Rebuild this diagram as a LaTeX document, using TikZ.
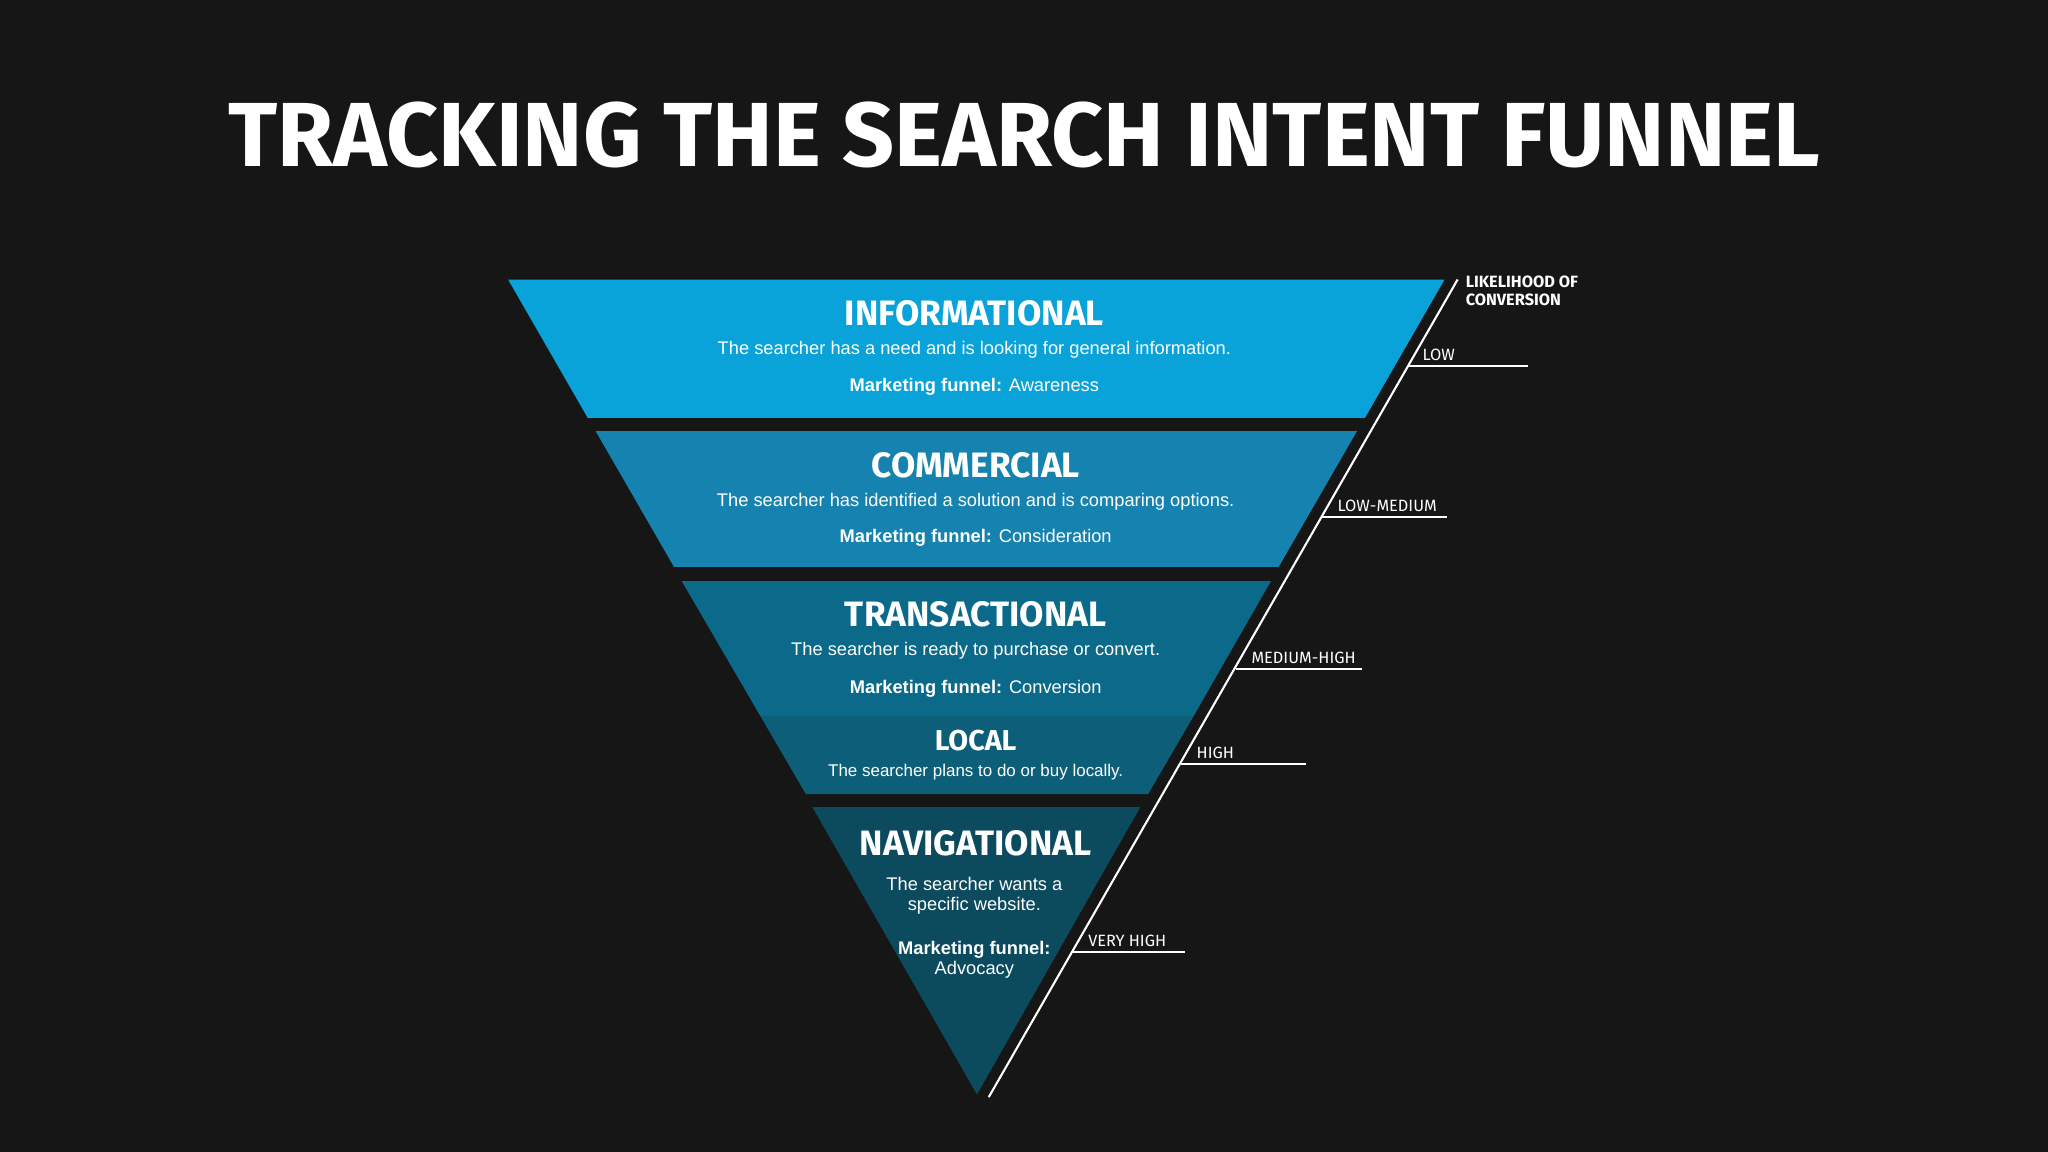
\documentclass[tikz,border=0pt]{standalone}
\usepackage{fontspec}
\setmainfont{Liberation Sans}
\newfontfamily\headfont{Fira Sans}
\definecolor{bg}{HTML}{161616}
\definecolor{cInfo}{HTML}{09A3D9}
\definecolor{cComm}{HTML}{1682AF}
\definecolor{cTrans}{HTML}{0B6A89}
\definecolor{cLocal}{HTML}{0D5E78}
\definecolor{cNav}{HTML}{0C4A5E}
\begin{document}
\begin{tikzpicture}[x=1pt,y=-1pt,
  band/.style={draw=none},
  hd/.style={text=white,font=\headfont\bfseries\fontsize{27}{27}\selectfont},
  bd/.style={text=white,font=\fontsize{14}{15}\selectfont,align=center},
  lvl/.style={text=white,font=\headfont\fontsize{12.5}{13}\selectfont,anchor=south west,inner sep=1pt},
  tick/.style={white,line width=1.6pt}]
\fill[bg] (0,0) rectangle (1568,882);
\useasboundingbox (0,0) rectangle (1568,882);
\node[text=white,font=\headfont\bfseries\fontsize{69.7}{70}\selectfont] (title) at (784,103) {TRACKING THE SEARCH INTENT FUNNEL};
\fill[cInfo] (389,214) -- (1106,214) -- (1045,320) -- (450,320) -- cycle;
\fill[cComm] (456,330) -- (1039,330) -- (979,434) -- (516,434) -- cycle;
\fill[cTrans] (522,445) -- (973,445) -- (914,548) -- (582,548) -- cycle;
\fill[cLocal] (582,548) -- (914,548) -- (879,608) -- (617,608) -- cycle;
\fill[cNav] (622,618) -- (873,618) -- (748,838) -- cycle;
\node[hd] (h1) at (746,240) {INFORMATIONAL};
\node[bd] (b1) at (746,268) {The searcher has a need and is looking for general information.};
\node[bd] (m1) at (746,296) {\textbf{Marketing funnel:} Awareness};
\node[hd] (h2) at (747,356) {COMMERCIAL};
\node[bd] (b2) at (747,384) {The searcher has identified a solution and is comparing options.};
\node[bd] (m2) at (747,412) {\textbf{Marketing funnel:} Consideration};
\node[hd] (h3) at (747,470) {TRANSACTIONAL};
\node[bd] (b3) at (747,498) {The searcher is ready to purchase or convert.};
\node[bd] (m3) at (747,527) {\textbf{Marketing funnel:} Conversion};
\node[hd,font=\headfont\bfseries\fontsize{22}{22}\selectfont] (h4) at (747,567) {LOCAL};
\node[bd,font=\fontsize{13}{14}\selectfont] (b4) at (747,591) {The searcher plans to do or buy locally.};
\node[hd] (h5) at (747,646) {NAVIGATIONAL};
\node[bd] (b5) at (746,686) {The searcher wants a\\specific website.};
\node[bd] (m5) at (746,735) {\textbf{Marketing funnel:}\\Advocacy};
\coordinate (ltop) at (1116,214);
\coordinate (lbot) at (757,840);
\draw[tick] (ltop) -- (lbot);
\node[text=white,font=\headfont\bfseries\fontsize{12.5}{14}\selectfont,align=left,anchor=north west,inner sep=0pt] (lk) at (1122,211) {LIKELIHOOD OF\\CONVERSION};
\coordinate (t1) at (1078,280); \coordinate (e1) at (1170,280);
\coordinate (t2) at (1012,396); \coordinate (e2) at (1108,396);
\coordinate (t3) at (946,512); \coordinate (e3) at (1043,512);
\coordinate (t4) at (904,585); \coordinate (e4) at (1000,585);
\coordinate (t5) at (821,729); \coordinate (e5) at (907,729);
\draw[tick] (t1) -- (e1); \draw[tick] (t2) -- (e2); \draw[tick] (t3) -- (e3);
\draw[tick] (t4) -- (e4); \draw[tick] (t5) -- (e5);
\node[lvl] (l1) at ([xshift=10,yshift=3]t1) {LOW};
\node[lvl] (l2) at ([xshift=11,yshift=3]t2) {LOW-MEDIUM};
\node[lvl] (l3) at ([xshift=11,yshift=3]t3) {MEDIUM-HIGH};
\node[lvl] (l4) at ([xshift=11,yshift=3]t4) {HIGH};
\node[lvl] (l5) at ([xshift=11,yshift=3]t5) {VERY HIGH};
\end{tikzpicture}
\end{document}
